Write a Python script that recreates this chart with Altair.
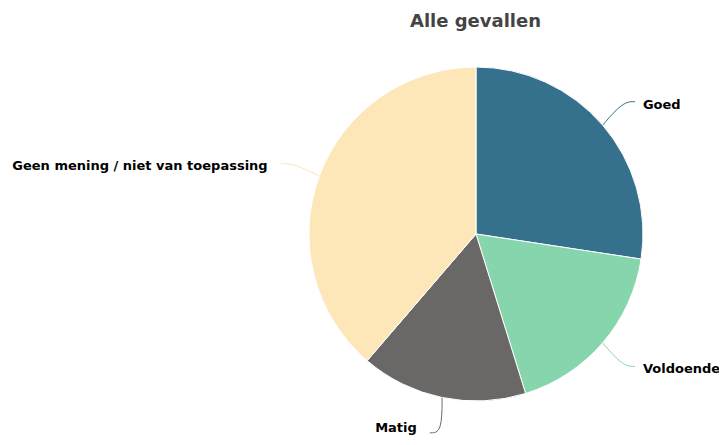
import altair as alt
import pandas as pd

categories = ["Goed", "Voldoende", "Matig", "Geen mening / niet van toepassing"]
values = [27.4, 17.8, 16.1, 38.7]
colors = ["#35708d", "#87d5ad", "#696866", "#fde6b8"]

df = pd.DataFrame({"cat": categories, "value": values, "idx": list(range(len(categories)))})

W, H = 711, 389
PAD_TOP = 40
CX = 476 - 8
CY = 234 - 8 - PAD_TOP
R = 167
RL = 203
FONT = "DejaVu Sans"

color = alt.Color("cat:N", scale=alt.Scale(domain=categories, range=colors), legend=None)

base = (
    alt.Chart(df)
    .transform_joinaggregate(total="sum(value)")
    .transform_window(cum="sum(value)", sort=[alt.SortField("idx")], frame=[None, 0])
    .transform_calculate(mid="2*PI*(datum.cum - datum.value/2)/datum.total")
    .transform_calculate(s="sin(datum.mid)", c="cos(datum.mid)")
    .transform_calculate(
        sign="datum.s >= 0 ? 1 : -1",
        ly=f"{CY} - {RL}*datum.c",
    )
    .transform_calculate(
        ex=f"{CX} + {RL}*datum.s + 5*datum.sign",
        tx=f"{CX} + {RL}*datum.s + (datum.sign > 0 ? 13 : -18)",
        ty=f"min(datum.ly + 3, {H - 9})",
    )
)

arcs = base.mark_arc(radius=R, stroke="white", strokeWidth=1).encode(
    theta=alt.Theta("value:Q", stack=True),
    color=color,
    order=alt.Order("idx:Q"),
    x=alt.value(CX),
    y=alt.value(CY),
)

lines = (
    base.transform_calculate(pt="[0,1,2]")
    .transform_flatten(["pt"])
    .transform_calculate(
        px=f"datum.pt == 0 ? {CX} + {R}*datum.s : (datum.pt == 1 ? datum.ex - 12*datum.sign : datum.ex)",
        py=f"datum.pt == 0 ? {CY} - {R}*datum.c : datum.ly",
    )
    .mark_line(interpolate="basis", strokeWidth=1)
    .encode(
        x=alt.X("px:Q", scale=None, axis=None),
        y=alt.Y("py:Q", scale=None, axis=None),
        color=color,
        detail="cat:N",
        order="pt:Q",
    )
)

text_style = dict(baseline="middle", font=FONT, fontWeight="bold", fontSize=13, color="#000000")

labels_right = base.transform_filter("datum.sign > 0").mark_text(align="left", **text_style).encode(
    x=alt.X("tx:Q", scale=None, axis=None),
    y=alt.Y("ty:Q", scale=None, axis=None),
    text="cat:N",
)
labels_left = base.transform_filter("datum.sign < 0").mark_text(align="right", **text_style).encode(
    x=alt.X("tx:Q", scale=None, axis=None),
    y=alt.Y("ty:Q", scale=None, axis=None),
    text="cat:N",
)

chart = (
    alt.layer(lines, arcs, labels_right, labels_left)
    .properties(
        width=W,
        height=H,
        padding={"top": PAD_TOP, "left": 0, "right": 0, "bottom": 0},
        autosize=alt.AutoSizeParams(type="none"),
        title=alt.TitleParams(
            "Alle gevallen",
            font=FONT,
            fontSize=18,
            fontWeight="bold",
            color="#444444",
            anchor="middle",
            baseline="middle",
            offset=8,
            dx=112,
        ),
    )
    .configure_view(stroke=None)
)

chart.save("out.html", embed_options={"renderer": "svg", "actions": False})
